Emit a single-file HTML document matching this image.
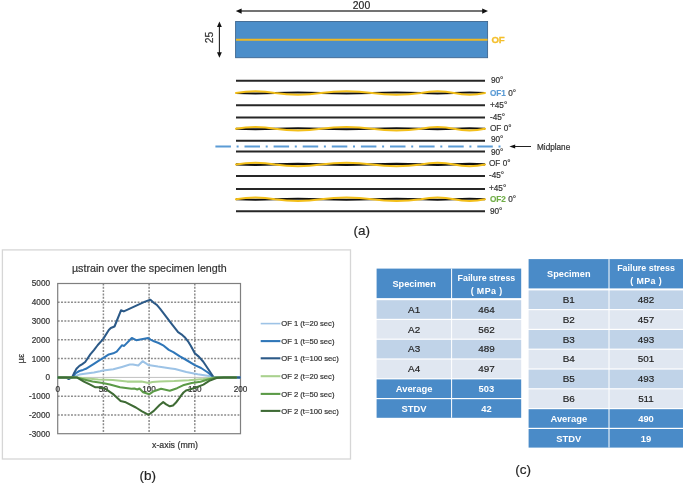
<!DOCTYPE html><html><head><meta charset="utf-8"><style>html,body{margin:0;padding:0;background:#fff;}svg{display:block;filter:blur(0.4px);}text{font-family:"Liberation Sans",sans-serif;}.k{stroke:#333;stroke-width:0.2px;}</style></head><body>
<svg width="685" height="485" viewBox="0 0 685 485">
<rect width="685" height="485" fill="#fff"/>
<line x1="240" y1="11" x2="484" y2="11" stroke="#444" stroke-width="1.4"/>
<path d="M235.8 11.1 L241.6 8.4 L241.6 13.8 Z" fill="#111"/>
<path d="M488 11.1 L482.2 8.4 L482.2 13.8 Z" fill="#111"/>
<text class="k" x="361.5" y="9.0" font-size="10.4" text-anchor="middle" fill="#222">200</text>
<line x1="219.4" y1="25" x2="219.4" y2="54" stroke="#222" stroke-width="1.1"/>
<path d="M219.4 21.5 L217 27 L221.8 27 Z" fill="#111"/>
<path d="M219.4 57.7 L217 52.2 L221.8 52.2 Z" fill="#111"/>
<text class="k" x="0" y="0" font-size="10.3" text-anchor="middle" fill="#333" transform="translate(213.2 37.5) rotate(-90)">25</text>
<rect x="235.6" y="21.5" width="252" height="36.2" fill="#4b8eca" stroke="#3c6690" stroke-width="0.9"/>
<line x1="236" y1="39.7" x2="487.6" y2="39.7" stroke="#f0b823" stroke-width="1.9"/>
<text x="491.4" y="43.1" font-size="9.6" font-weight="bold" fill="#f4bf2c" stroke="#f4bf2c" stroke-width="0.35">OF</text>
<line x1="236" y1="80.7" x2="485" y2="80.7" stroke="#262626" stroke-width="2"/>
<text class="k" x="491" y="83.4" font-size="8.2" fill="#333">90°</text>
<path d="M236 93 C250 93.7 261 93.7 275 93 C291.6 92.3 304.4 92.3 321 93 C339.4 93.7 353.6 93.7 372 93 C389.6 92.3 403.4 92.3 421 93 C432.9 93.7 442.1 93.7 454 93 C465.2 92.3 473.8 92.3 485 93" fill="none" stroke="#111" stroke-width="2.1"/>
<path d="M236 93 C250 90.5 261 90.5 275 93 C291.6 95.5 304.4 95.5 321 93 C339.4 90.5 353.6 90.5 372 93 C389.6 95.5 403.4 95.5 421 93 C432.9 90.5 442.1 90.5 454 93 C465.2 95.5 473.8 95.5 485 93" fill="none" stroke="#f3bf1a" stroke-width="2.0" stroke-linecap="round"/>
<text class="k" x="490" y="95.7" font-size="8.2" fill="#333"><tspan fill="#5b9bd5" stroke="#5b9bd5" stroke-width="0.15" font-weight="bold">OF1</tspan> 0°</text>
<line x1="236" y1="105.2" x2="485" y2="105.2" stroke="#262626" stroke-width="2"/>
<text class="k" x="490" y="108" font-size="8.2" fill="#333">+45°</text>
<line x1="236" y1="117.4" x2="485" y2="117.4" stroke="#262626" stroke-width="2"/>
<text class="k" x="490" y="120.2" font-size="8.2" fill="#333">-45°</text>
<path d="M236 128.8 C250 129.5 261 129.5 275 128.8 C291.6 128.1 304.4 128.1 321 128.8 C339.4 129.5 353.6 129.5 372 128.8 C389.6 128.1 403.4 128.1 421 128.8 C432.9 129.5 442.1 129.5 454 128.8 C465.2 128.1 473.8 128.1 485 128.8" fill="none" stroke="#111" stroke-width="2.1"/>
<path d="M236 128.8 C250 126.3 261 126.3 275 128.8 C291.6 131.3 304.4 131.3 321 128.8 C339.4 126.3 353.6 126.3 372 128.8 C389.6 131.3 403.4 131.3 421 128.8 C432.9 126.3 442.1 126.3 454 128.8 C465.2 131.3 473.8 131.3 485 128.8" fill="none" stroke="#f3bf1a" stroke-width="2.0" stroke-linecap="round"/>
<text class="k" x="490" y="131.2" font-size="8.2" fill="#333"><tspan fill="#333" stroke="#333" stroke-width="0.15" font-weight="normal">OF</tspan> 0°</text>
<line x1="236" y1="140.7" x2="485" y2="140.7" stroke="#262626" stroke-width="2"/>
<text class="k" x="491" y="141.8" font-size="8.2" fill="#333">90°</text>
<line x1="236" y1="151.5" x2="485" y2="151.5" stroke="#262626" stroke-width="2"/>
<text class="k" x="491" y="154.8" font-size="8.2" fill="#333">90°</text>
<path d="M236 164.4 C250 165.1 261 165.1 275 164.4 C291.6 163.7 304.4 163.7 321 164.4 C339.4 165.1 353.6 165.1 372 164.4 C389.6 163.7 403.4 163.7 421 164.4 C432.9 165.1 442.1 165.1 454 164.4 C465.2 163.7 473.8 163.7 485 164.4" fill="none" stroke="#111" stroke-width="2.1"/>
<path d="M236 164.4 C250 161.9 261 161.9 275 164.4 C291.6 166.9 304.4 166.9 321 164.4 C339.4 161.9 353.6 161.9 372 164.4 C389.6 166.9 403.4 166.9 421 164.4 C432.9 161.9 442.1 161.9 454 164.4 C465.2 166.9 473.8 166.9 485 164.4" fill="none" stroke="#f3bf1a" stroke-width="2.0" stroke-linecap="round"/>
<text class="k" x="489" y="166.3" font-size="8.2" fill="#333"><tspan fill="#333" stroke="#333" stroke-width="0.15" font-weight="normal">OF</tspan> 0°</text>
<line x1="236" y1="176.0" x2="485" y2="176.0" stroke="#262626" stroke-width="2"/>
<text class="k" x="489" y="178.3" font-size="8.2" fill="#333">-45°</text>
<line x1="236" y1="189.0" x2="485" y2="189.0" stroke="#262626" stroke-width="2"/>
<text class="k" x="489" y="191" font-size="8.2" fill="#333">+45°</text>
<path d="M236 199.2 C250 199.9 261 199.9 275 199.2 C291.6 198.5 304.4 198.5 321 199.2 C339.4 199.9 353.6 199.9 372 199.2 C389.6 198.5 403.4 198.5 421 199.2 C432.9 199.9 442.1 199.9 454 199.2 C465.2 198.5 473.8 198.5 485 199.2" fill="none" stroke="#111" stroke-width="2.1"/>
<path d="M236 199.2 C250 196.7 261 196.7 275 199.2 C291.6 201.7 304.4 201.7 321 199.2 C339.4 196.7 353.6 196.7 372 199.2 C389.6 201.7 403.4 201.7 421 199.2 C432.9 196.7 442.1 196.7 454 199.2 C465.2 201.7 473.8 201.7 485 199.2" fill="none" stroke="#f3bf1a" stroke-width="2.0" stroke-linecap="round"/>
<text class="k" x="490" y="201.5" font-size="8.2" fill="#333"><tspan fill="#70ad47" stroke="#70ad47" stroke-width="0.15" font-weight="bold">OF2</tspan> 0°</text>
<line x1="236" y1="211.3" x2="485" y2="211.3" stroke="#262626" stroke-width="2"/>
<text class="k" x="490" y="213.9" font-size="8.2" fill="#333">90°</text>
<line x1="215.4" y1="146.5" x2="501" y2="146.5" stroke="#5b9bd5" stroke-width="2" stroke-dasharray="15.5 5.7 2 5.9" />
<line x1="513" y1="146.5" x2="531" y2="146.5" stroke="#222" stroke-width="1.05"/>
<path d="M509.4 146.5 L515.2 144.4 L515.2 148.6 Z" fill="#111"/>
<text class="k" x="537" y="149.7" font-size="8.2" fill="#333">Midplane</text>
<text class="k" x="361.7" y="234.6" font-size="13.5" text-anchor="middle" fill="#222">(a)</text>
<rect x="2.4" y="249.9" width="348.1" height="209.1" fill="#fff" stroke="#d6d6d6" stroke-width="1.3"/>
<text class="k" x="149.3" y="271.9" font-size="10.7" text-anchor="middle" fill="#333">µstrain over the specimen length</text>
<line x1="57.7" y1="302.3" x2="240.5" y2="302.3" stroke="#8a8a8a" stroke-width="1.5" stroke-dasharray="1.9 1.43"/>
<line x1="57.7" y1="321.1" x2="240.5" y2="321.1" stroke="#8a8a8a" stroke-width="1.5" stroke-dasharray="1.9 1.43"/>
<line x1="57.7" y1="339.8" x2="240.5" y2="339.8" stroke="#8a8a8a" stroke-width="1.5" stroke-dasharray="1.9 1.43"/>
<line x1="57.7" y1="358.6" x2="240.5" y2="358.6" stroke="#8a8a8a" stroke-width="1.5" stroke-dasharray="1.9 1.43"/>
<line x1="57.7" y1="396.2" x2="240.5" y2="396.2" stroke="#8a8a8a" stroke-width="1.5" stroke-dasharray="1.9 1.43"/>
<line x1="57.7" y1="415" x2="240.5" y2="415" stroke="#8a8a8a" stroke-width="1.5" stroke-dasharray="1.9 1.43"/>
<line x1="103.4" y1="283.5" x2="103.4" y2="433.7" stroke="#8a8a8a" stroke-width="1.5" stroke-dasharray="1.9 1.43"/>
<line x1="149.1" y1="283.5" x2="149.1" y2="433.7" stroke="#8a8a8a" stroke-width="1.5" stroke-dasharray="1.9 1.43"/>
<line x1="194.8" y1="283.5" x2="194.8" y2="433.7" stroke="#8a8a8a" stroke-width="1.5" stroke-dasharray="1.9 1.43"/>
<line x1="57.7" y1="377.4" x2="240.5" y2="377.4" stroke="#c0c0c0" stroke-width="1"/>
<rect x="57.7" y="283.5" width="182.8" height="150.2" fill="none" stroke="#7f7f7f" stroke-width="1.2"/>
<text class="k" x="50" y="286.4" font-size="8.2" text-anchor="end" fill="#333">5000</text>
<text class="k" x="50" y="305.2" font-size="8.2" text-anchor="end" fill="#333">4000</text>
<text class="k" x="50" y="324" font-size="8.2" text-anchor="end" fill="#333">3000</text>
<text class="k" x="50" y="342.7" font-size="8.2" text-anchor="end" fill="#333">2000</text>
<text class="k" x="50" y="361.5" font-size="8.2" text-anchor="end" fill="#333">1000</text>
<text class="k" x="50" y="380.3" font-size="8.2" text-anchor="end" fill="#333">0</text>
<text class="k" x="50" y="399.1" font-size="8.2" text-anchor="end" fill="#333">-1000</text>
<text class="k" x="50" y="417.9" font-size="8.2" text-anchor="end" fill="#333">-2000</text>
<text class="k" x="50" y="436.6" font-size="8.2" text-anchor="end" fill="#333">-3000</text>
<text class="k" x="57.7" y="391.6" font-size="8.2" text-anchor="middle" fill="#333">0</text>
<text class="k" x="103.4" y="391.6" font-size="8.2" text-anchor="middle" fill="#333">50</text>
<text class="k" x="149.1" y="391.6" font-size="8.2" text-anchor="middle" fill="#333">100</text>
<text class="k" x="194.8" y="391.6" font-size="8.2" text-anchor="middle" fill="#333">150</text>
<text class="k" x="240.5" y="391.6" font-size="8.2" text-anchor="middle" fill="#333">200</text>
<text class="k" x="0" y="0" font-size="9.6" text-anchor="middle" fill="#333" transform="translate(24.4 358.5) rotate(-90)">µε</text>
<text class="k" x="175" y="448.4" font-size="8.8" text-anchor="middle" fill="#333">x-axis (mm)</text>
<polyline points="57.7,377.4 72.2,377.2 79.4,374.6 86.6,373.5 93.9,372.4 100,371.3 103.1,370.6 113.3,369.2 121.9,366.9 129.8,364.6 132.9,364.4 138.3,365.5 142.6,361.2 145.9,363.3 148.2,365 158,366.6 171,368.4 175,369.1 186.3,372 197.7,374.2 209,375.9 213.6,377.2 240.5,377.4" fill="none" stroke="#9dc3e6" stroke-width="2.05" stroke-linejoin="round"/>
<polyline points="57.7,377.4 72.2,377.2 75.8,373.1 79.4,371 83,369.9 85.9,368.8 89.5,366.6 93.9,363.8 100,359.8 103.1,358.1 108.8,354.4 113.3,353.3 116.7,351.6 121.9,345.3 124.1,345.9 131.8,338 136.2,340.2 148.2,338 150.6,339.6 154,341.3 158.6,343 163.1,345.3 168.8,349.9 173.3,352.1 179.5,356.2 186.3,360 194.8,365.1 201.1,368 207.9,372.5 213.6,377.2 240.5,377.4" fill="none" stroke="#2f76b8" stroke-width="2.05" stroke-linejoin="round"/>
<polyline points="57.7,377.4 66,377.4 68.7,379 72.2,377.2 74.4,372.4 76.5,368.8 79.4,365.9 82.3,364.1 85.2,362 87.4,358.7 90.3,354.4 93.9,350.1 97.8,345 103.1,339.1 108.8,330 110.8,328 114.5,326.5 121,310.3 123.8,311.4 145,301.6 150.4,299.7 154,303 156.8,304.8 160,308.7 164,313.9 168.2,319.4 172.4,324.8 178.1,332.2 181.4,334.3 184.7,337.2 188,341.3 190.9,346 194.8,353.2 198.8,356.6 203.3,361.7 209,370.2 213.6,377.2 240.5,377.4" fill="none" stroke="#2c5a88" stroke-width="2.05" stroke-linejoin="round"/>
<polyline points="57.7,377.4 76.7,377.4 98.3,379.4 112.8,380.1 127.2,381.6 141.6,381.6 148.8,383 152.3,382 159.6,381.4 174.2,381 188.8,380.2 203.4,379 215,377.6 236.8,377.4" fill="none" stroke="#a9d18e" stroke-width="2.05" stroke-linejoin="round"/>
<polyline points="57.7,377.4 76.7,377.4 83.9,379.4 92.5,381.6 102.6,383 109.9,384.4 120,387.3 131.5,388.8 134.4,388.5 137.3,389.5 139.5,388.5 143.1,392.3 149.4,394.2 153.8,391.2 161.1,388.7 169.8,390.7 177.1,388.2 183,385.3 191.7,383.1 200.5,381.7 207.8,379.5 216.5,377.6 236.8,377.4" fill="none" stroke="#5b9a47" stroke-width="2.05" stroke-linejoin="round"/>
<polyline points="57.7,377.4 76.7,377.4 83.9,381.6 89.7,384.4 95.4,387.3 98.3,387.3 105.5,388.8 112.8,393.8 120.6,401.1 125.8,402.3 135.9,407.5 141.6,411.1 148.6,414.8 153.8,410.9 159.6,405 163.2,402.1 166.2,404.3 169.8,406.3 173,405.5 176,402.5 178.6,399.2 181,395.6 183.5,392.5 186,390.5 188.8,389.7 196.1,387.5 203.4,384.6 209.2,380.9 216.5,378 223.8,377.4 236.8,377.4" fill="none" stroke="#3f6b35" stroke-width="2.05" stroke-linejoin="round"/>
<line x1="260.7" y1="323.6" x2="280.4" y2="323.6" stroke="#9dc3e6" stroke-width="1.6"/>
<text class="k" x="281.2" y="326.4" font-size="7.65" fill="#333">OF 1 (t=20 sec)</text>
<line x1="260.7" y1="341.1" x2="280.4" y2="341.1" stroke="#2f76b8" stroke-width="2.1"/>
<text class="k" x="281.2" y="343.9" font-size="7.65" fill="#333">OF 1 (t=50 sec)</text>
<line x1="260.7" y1="358.3" x2="280.4" y2="358.3" stroke="#2c5a88" stroke-width="2.1"/>
<text class="k" x="281.2" y="361.1" font-size="7.65" fill="#333">OF 1 (t=100 sec)</text>
<line x1="260.7" y1="376.2" x2="280.4" y2="376.2" stroke="#a9d18e" stroke-width="2.1"/>
<text class="k" x="281.2" y="379" font-size="7.65" fill="#333">OF 2 (t=20 sec)</text>
<line x1="260.7" y1="393.9" x2="280.4" y2="393.9" stroke="#5b9a47" stroke-width="2.1"/>
<text class="k" x="281.2" y="396.7" font-size="7.65" fill="#333">OF 2 (t=50 sec)</text>
<line x1="260.7" y1="410.9" x2="280.4" y2="410.9" stroke="#3f6b35" stroke-width="2.1"/>
<text class="k" x="281.2" y="413.7" font-size="7.65" fill="#333">OF 2 (t=100 sec)</text>
<text class="k" x="147.7" y="479.9" font-size="13.5" text-anchor="middle" fill="#222">(b)</text>
<rect x="376.6" y="268.6" width="144.6" height="29.5" fill="#4a8bc8"/>
<rect x="376.6" y="300.2" width="144.6" height="18.6" fill="#c0d3e8"/>
<text x="414.1" y="312.8" font-size="9.9" font-weight="normal" text-anchor="middle" fill="#222" stroke="#222" stroke-width="0.18">A1</text>
<text x="486.4" y="312.8" font-size="9.9" font-weight="normal" text-anchor="middle" fill="#222" stroke="#222" stroke-width="0.18">464</text>
<rect x="376.6" y="320" width="144.6" height="18.6" fill="#e0e7f1"/>
<text x="414.1" y="332.6" font-size="9.9" font-weight="normal" text-anchor="middle" fill="#222" stroke="#222" stroke-width="0.18">A2</text>
<text x="486.4" y="332.6" font-size="9.9" font-weight="normal" text-anchor="middle" fill="#222" stroke="#222" stroke-width="0.18">562</text>
<rect x="376.6" y="339.8" width="144.6" height="18.6" fill="#c0d3e8"/>
<text x="414.1" y="352.4" font-size="9.9" font-weight="normal" text-anchor="middle" fill="#222" stroke="#222" stroke-width="0.18">A3</text>
<text x="486.4" y="352.4" font-size="9.9" font-weight="normal" text-anchor="middle" fill="#222" stroke="#222" stroke-width="0.18">489</text>
<rect x="376.6" y="359.6" width="144.6" height="18.6" fill="#e0e7f1"/>
<text x="414.1" y="372.2" font-size="9.9" font-weight="normal" text-anchor="middle" fill="#222" stroke="#222" stroke-width="0.18">A4</text>
<text x="486.4" y="372.2" font-size="9.9" font-weight="normal" text-anchor="middle" fill="#222" stroke="#222" stroke-width="0.18">497</text>
<rect x="376.6" y="379.4" width="144.6" height="18.6" fill="#4a8bc8"/>
<text x="414.1" y="392" font-size="9.4" font-weight="bold" text-anchor="middle" fill="#fff">Average</text>
<text x="486.4" y="392" font-size="9.4" font-weight="bold" text-anchor="middle" fill="#fff">503</text>
<rect x="376.6" y="399.2" width="144.6" height="18.6" fill="#4a8bc8"/>
<text x="414.1" y="411.8" font-size="9.4" font-weight="bold" text-anchor="middle" fill="#fff">STDV</text>
<text x="486.4" y="411.8" font-size="9.4" font-weight="bold" text-anchor="middle" fill="#fff">42</text>
<line x1="451.6" y1="268.6" x2="451.6" y2="417.8" stroke="#fff" stroke-width="1"/>
<text x="414.1" y="286.7" font-size="9.2" font-weight="bold" text-anchor="middle" fill="#fff">Specimen</text>
<text x="486.4" y="280.5" font-size="8.9" font-weight="bold" text-anchor="middle" fill="#fff">Failure stress</text>
<text x="486.4" y="294" font-size="8.9" font-weight="bold" text-anchor="middle" fill="#fff" textLength="31.5" lengthAdjust="spacing">( MPa )</text>
<rect x="528.6" y="259.1" width="154.4" height="29.3" fill="#4a8bc8"/>
<rect x="528.6" y="290.4" width="154.4" height="18.6" fill="#c0d3e8"/>
<text x="568.8" y="303" font-size="9.9" font-weight="normal" text-anchor="middle" fill="#222" stroke="#222" stroke-width="0.18">B1</text>
<text x="646" y="303" font-size="9.9" font-weight="normal" text-anchor="middle" fill="#222" stroke="#222" stroke-width="0.18">482</text>
<rect x="528.6" y="310.2" width="154.4" height="18.6" fill="#e0e7f1"/>
<text x="568.8" y="322.8" font-size="9.9" font-weight="normal" text-anchor="middle" fill="#222" stroke="#222" stroke-width="0.18">B2</text>
<text x="646" y="322.8" font-size="9.9" font-weight="normal" text-anchor="middle" fill="#222" stroke="#222" stroke-width="0.18">457</text>
<rect x="528.6" y="330" width="154.4" height="18.6" fill="#c0d3e8"/>
<text x="568.8" y="342.6" font-size="9.9" font-weight="normal" text-anchor="middle" fill="#222" stroke="#222" stroke-width="0.18">B3</text>
<text x="646" y="342.6" font-size="9.9" font-weight="normal" text-anchor="middle" fill="#222" stroke="#222" stroke-width="0.18">493</text>
<rect x="528.6" y="349.8" width="154.4" height="18.6" fill="#e0e7f1"/>
<text x="568.8" y="362.4" font-size="9.9" font-weight="normal" text-anchor="middle" fill="#222" stroke="#222" stroke-width="0.18">B4</text>
<text x="646" y="362.4" font-size="9.9" font-weight="normal" text-anchor="middle" fill="#222" stroke="#222" stroke-width="0.18">501</text>
<rect x="528.6" y="369.6" width="154.4" height="18.6" fill="#c0d3e8"/>
<text x="568.8" y="382.2" font-size="9.9" font-weight="normal" text-anchor="middle" fill="#222" stroke="#222" stroke-width="0.18">B5</text>
<text x="646" y="382.2" font-size="9.9" font-weight="normal" text-anchor="middle" fill="#222" stroke="#222" stroke-width="0.18">493</text>
<rect x="528.6" y="389.4" width="154.4" height="18.6" fill="#e0e7f1"/>
<text x="568.8" y="402" font-size="9.9" font-weight="normal" text-anchor="middle" fill="#222" stroke="#222" stroke-width="0.18">B6</text>
<text x="646" y="402" font-size="9.9" font-weight="normal" text-anchor="middle" fill="#222" stroke="#222" stroke-width="0.18">511</text>
<rect x="528.6" y="409.2" width="154.4" height="18.6" fill="#4a8bc8"/>
<text x="568.8" y="421.8" font-size="9.4" font-weight="bold" text-anchor="middle" fill="#fff">Average</text>
<text x="646" y="421.8" font-size="9.4" font-weight="bold" text-anchor="middle" fill="#fff">490</text>
<rect x="528.6" y="429" width="154.4" height="18.6" fill="#4a8bc8"/>
<text x="568.8" y="441.6" font-size="9.4" font-weight="bold" text-anchor="middle" fill="#fff">STDV</text>
<text x="646" y="441.6" font-size="9.4" font-weight="bold" text-anchor="middle" fill="#fff">19</text>
<line x1="609" y1="259.1" x2="609" y2="447.6" stroke="#fff" stroke-width="1"/>
<text x="568.8" y="277.1" font-size="9.2" font-weight="bold" text-anchor="middle" fill="#fff">Specimen</text>
<text x="646" y="270.9" font-size="8.9" font-weight="bold" text-anchor="middle" fill="#fff">Failure stress</text>
<text x="646" y="284.4" font-size="8.9" font-weight="bold" text-anchor="middle" fill="#fff" textLength="31.5" lengthAdjust="spacing">( MPa )</text>
<text class="k" x="523.2" y="473.8" font-size="13.5" text-anchor="middle" fill="#222">(c)</text>
</svg></body></html>
